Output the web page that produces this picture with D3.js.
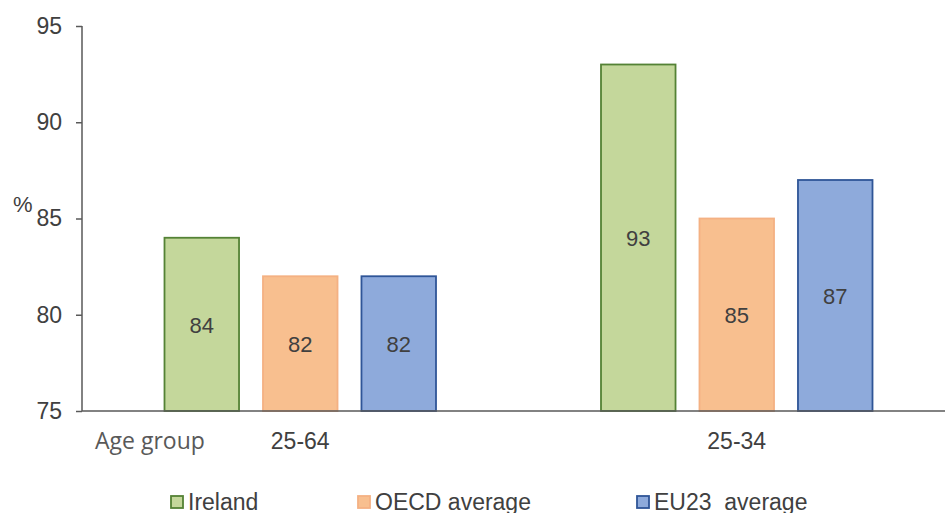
<!DOCTYPE html>
<html lang="en">
<head>
<meta charset="UTF-8">
<title>Age group chart</title>
<style>
    body, html { margin: 0; padding: 0; background: #fff; overflow: hidden; }
    svg { display: block; }
    .axis text { font: 23px "Liberation Sans", Arial, sans-serif; fill: #404040; }
    .axis path, .axis line { stroke: #595959; stroke-width: 1.5; }
    .val { font: 22px "Liberation Sans", Arial, sans-serif; fill: #404040; }
    .legend text { font: 23px "Liberation Sans", Arial, sans-serif; fill: #404040; white-space: pre; }
</style>
</head>
<body>
<svg width="945" height="513"></svg>
<script src="https://d3js.org/d3.v7.min.js"></script>
<script>
    const groups = ["25-64", "25-34"];
    const series = ["Ireland", "OECD average", "EU23  average"];
    const ireland = [84, 93];
    const oecd = [82, 85];
    const eu23 = [82, 87];
    const yTicks = [75, 80, 85, 90, 95];

    const fills = ["#c4d79b", "#f8bf8f", "#8eaadb"];
    const strokes = ["#548235", "#f4b183", "#2f5597"];

    const svg = d3.select("svg");
    const mLeft = 82, mRight = 955, mTop = 26, mBottom = 411;
    const groupW = 273;

    const x = d3.scaleBand().domain(groups).range([mLeft, mRight]);
    const xs = d3.scaleBand().domain(series).range([0, groupW]).paddingInner(0.228);
    const y = d3.scaleLinear().domain([75, 95]).range([mBottom, mTop]);

    const values = [ireland, oecd, eu23];
    const gx = d => x(d) + x.bandwidth() / 2 - groupW / 2;

    // y axis
    const gy = svg.append("g").attr("class", "axis")
        .attr("transform", `translate(${mLeft},0)`)
        .call(d3.axisLeft(y).tickValues(yTicks).tickSize(6).tickPadding(14));
    gy.select(".domain").attr("d", `M0,${mTop}V${mBottom}`);

    // bars
    series.forEach((s, si) => {
        const g = svg.append("g");
        g.selectAll("rect").data(groups).enter().append("rect")
            .attr("x", d => gx(d) + xs(s) + 0.75)
            .attr("y", (d, i) => y(values[si][i]))
            .attr("width", xs.bandwidth() - 1.5)
            .attr("height", (d, i) => mBottom - y(values[si][i]))
            .attr("fill", fills[si])
            .attr("stroke", strokes[si])
            .attr("stroke-width", 1.8);
        g.selectAll("text").data(groups).enter().append("text")
            .attr("class", "val")
            .attr("x", d => gx(d) + xs(s) + xs.bandwidth() / 2)
            .attr("y", (d, i) => (y(values[si][i]) + mBottom) / 2 + 1)
            .attr("dy", "0.35em")
            .attr("text-anchor", "middle")
            .text((d, i) => values[si][i]);
    });

    // x axis line
    svg.append("line")
        .attr("x1", mLeft).attr("x2", mRight)
        .attr("y1", mBottom).attr("y2", mBottom)
        .attr("stroke", "#595959").attr("stroke-width", 1.5);

    // category labels
    svg.selectAll(".cat").data(groups).enter().append("text")
        .attr("class", "cat")
        .attr("x", d => x(d) + x.bandwidth() / 2)
        .attr("y", 449)
        .attr("text-anchor", "middle")
        .style("font", '23px "Liberation Sans", Arial, sans-serif')
        .attr("fill", "#404040")
        .text(d => d);

    svg.append("text")
        .attr("x", 95).attr("y", 449)
        .style("font", '23px "Open Sans", sans-serif')
        .attr("fill", "#595959")
        .text("Age group");

    svg.append("text")
        .attr("x", 13).attr("y", 212)
        .style("font", '22px "Liberation Sans", Arial, sans-serif')
        .attr("fill", "#404040")
        .text("%");

    // legend
    const legX = [171, 358, 637];
    const leg = svg.append("g").attr("class", "legend");
    series.forEach((s, i) => {
        leg.append("rect")
            .attr("x", legX[i]).attr("y", 496)
            .attr("width", 12).attr("height", 12)
            .attr("fill", fills[i]).attr("stroke", strokes[i]).attr("stroke-width", 1.8);
        leg.append("text")
            .attr("x", legX[i] + 17).attr("y", 510)
            .text(s);
    });
</script>
</body>
</html>
